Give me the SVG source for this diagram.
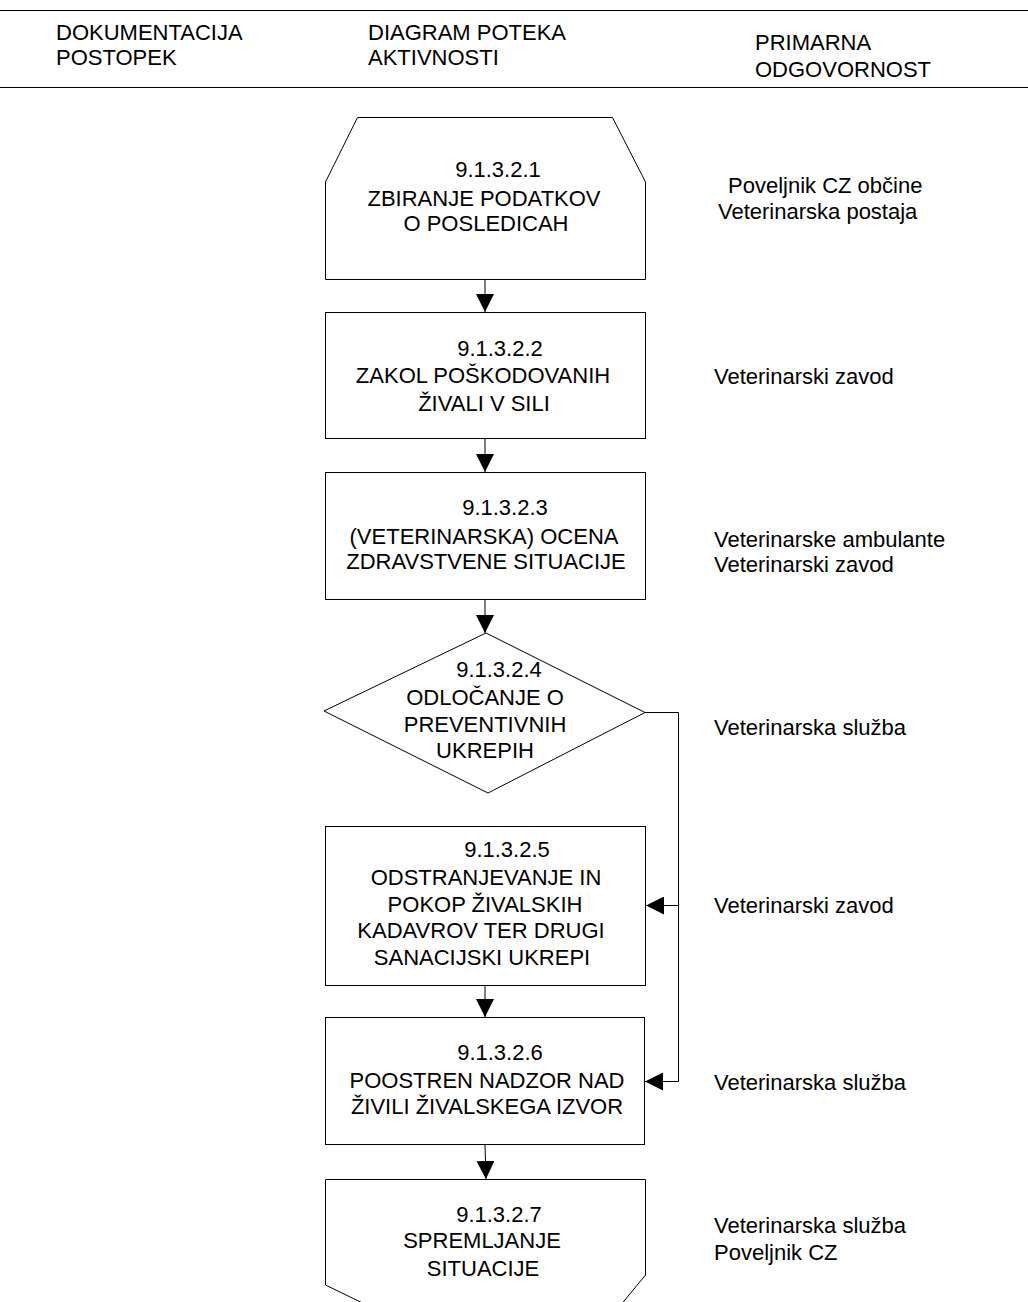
<svg xmlns="http://www.w3.org/2000/svg" width="1028" height="1302" viewBox="0 0 1028 1302">
<style>
text{font-family:"Liberation Sans",Arial,sans-serif;font-size:22px;fill:#000}
.c{text-anchor:middle}
.shape{fill:#fff;stroke:#000;stroke-width:1}
.ln{fill:none;stroke:#000;stroke-width:1}
</style>
<defs>
<marker id="ah" viewBox="0 0 18 18" refX="18" refY="9" markerWidth="18" markerHeight="18" markerUnits="userSpaceOnUse" orient="auto">
<path d="M0,0 L18,9 L0,18 Z" fill="#000"/>
</marker>
</defs>
<rect width="1028" height="1302" fill="#fff"/>
<g id="header">
<line class="ln" x1="0" y1="10.5" x2="1028" y2="10.5"/>
<line class="ln" x1="0" y1="87.5" x2="1028" y2="87.5"/>
<text x="56" y="40">DOKUMENTACIJA</text>
<text x="56" y="65">POSTOPEK</text>
<text x="368" y="40">DIAGRAM POTEKA</text>
<text x="368" y="65">AKTIVNOSTI</text>
<text x="755" y="50">PRIMARNA</text>
<text x="755" y="77">ODGOVORNOST</text>
</g>
<g id="connectors">
<line class="ln" x1="485" y1="279" x2="485" y2="312" marker-end="url(#ah)"/>
<line class="ln" x1="485" y1="439" x2="485" y2="472" marker-end="url(#ah)"/>
<line class="ln" x1="485" y1="600" x2="485" y2="633" marker-end="url(#ah)"/>
<polyline class="ln" points="645,712.5 678.5,712.5 678.5,1081.5 645,1081.5" marker-end="url(#ah)"/>
<line class="ln" x1="678.5" y1="905.5" x2="646" y2="905.5" marker-end="url(#ah)"/>
<line class="ln" x1="485" y1="986" x2="485" y2="1017" marker-end="url(#ah)"/>
<line class="ln" x1="485" y1="1145" x2="486" y2="1179" marker-end="url(#ah)"/>
</g>
<g id="n1">
<path class="shape" d="M357.5,117.5 H612.5 L645.5,182 V279.5 H325.5 V182 Z"/>
<text class="c" x="498" y="177">9.1.3.2.1</text>
<text class="c" x="484" y="206">ZBIRANJE PODATKOV</text>
<text class="c" x="486" y="231">O POSLEDICAH</text>
</g>
<g id="n2">
<rect class="shape" x="325.5" y="312.5" width="320" height="126"/>
<text class="c" x="500" y="356">9.1.3.2.2</text>
<text class="c" x="483" y="383">ZAKOL POŠKODOVANIH</text>
<text class="c" x="484" y="411">ŽIVALI V SILI</text>
</g>
<g id="n3">
<rect class="shape" x="325.5" y="472.5" width="320" height="127"/>
<text class="c" x="505" y="515">9.1.3.2.3</text>
<text class="c" x="484" y="544">(VETERINARSKA) OCENA</text>
<text class="c" x="486" y="569">ZDRAVSTVENE SITUACIJE</text>
</g>
<g id="n4">
<polygon class="shape" points="486,633 645,712.5 488,793 324,711"/>
<text class="c" x="499" y="677">9.1.3.2.4</text>
<text class="c" x="485" y="705">ODLOČANJE O</text>
<text class="c" x="485" y="732">PREVENTIVNIH</text>
<text class="c" x="485" y="758">UKREPIH</text>
</g>
<g id="n5">
<rect class="shape" x="325.5" y="826.5" width="320" height="159"/>
<text class="c" x="507" y="857">9.1.3.2.5</text>
<text class="c" x="486" y="885">ODSTRANJEVANJE IN</text>
<text class="c" x="485" y="912">POKOP ŽIVALSKIH</text>
<text class="c" x="481" y="938">KADAVROV TER DRUGI</text>
<text class="c" x="482" y="965">SANACIJSKI UKREPI</text>
</g>
<g id="n6">
<rect class="shape" x="325.5" y="1017.5" width="319" height="127"/>
<text class="c" x="500" y="1060">9.1.3.2.6</text>
<text class="c" x="487" y="1088">POOSTREN NADZOR NAD</text>
<text class="c" x="487" y="1114">ŽIVILI ŽIVALSKEGA IZVOR</text>
</g>
<g id="n7">
<path class="shape" d="M325.5,1179.5 H645.5 V1275 L615,1312 H381 L325.5,1285 Z"/>
<text class="c" x="499" y="1222">9.1.3.2.7</text>
<text class="c" x="482" y="1248">SPREMLJANJE</text>
<text class="c" x="483" y="1276">SITUACIJE</text>
</g>
<g id="responsibility">
<text x="728" y="193">Poveljnik CZ občine</text>
<text x="718" y="219">Veterinarska postaja</text>
<text x="714" y="384">Veterinarski zavod</text>
<text x="714" y="547">Veterinarske ambulante</text>
<text x="714" y="572">Veterinarski zavod</text>
<text x="714" y="735">Veterinarska služba</text>
<text x="714" y="913">Veterinarski zavod</text>
<text x="714" y="1090">Veterinarska služba</text>
<text x="714" y="1233">Veterinarska služba</text>
<text x="714" y="1260">Poveljnik CZ</text>
</g>
</svg>
